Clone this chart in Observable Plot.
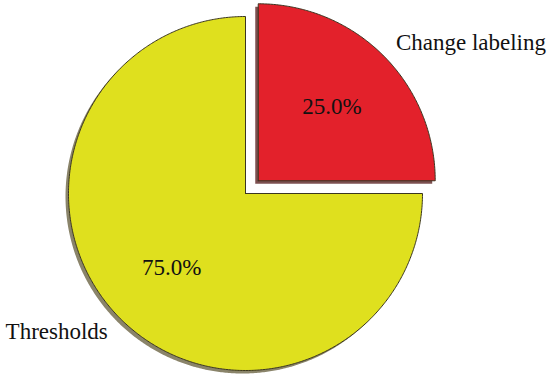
<!DOCTYPE html>
<html>
<head>
<meta charset="utf-8">
<script src="https://cdn.jsdelivr.net/npm/d3@7"></script>
<script src="https://cdn.jsdelivr.net/npm/@observablehq/plot@0.6"></script>
<style>
  html, body { margin: 0; padding: 0; background: #ffffff; }
  #chart { width: 550px; height: 381px; }
</style>
</head>
<body>
<div id="chart"></div>
<script>
// ---- data ----
const categories = ["Change labeling", "Thresholds"];
const values = [25, 75];
const percentLabels = ["25.0%", "75.0%"];
const sliceColors = ["#e3212b", "#dfe01e"];
const shadowColors = ["#7d5050", "#8a846a"];

// ---- layout constants ----
const W = 550, H = 381;
const R = 177;            // pie radius in data units (1 unit = 1 px)
const explode = [18, 0];  // offset of each slice along its mid-angle
const shadowDx = -3, shadowDy = -3;

const pie = d3.pie().sort(null).value(d => d)(values);

function slicePoints(arc, i, dx = 0, dy = 0) {
  const mid = (arc.startAngle + arc.endAngle) / 2;
  const ox = Math.sin(mid) * explode[i] + dx;
  const oy = Math.cos(mid) * explode[i] + dy;
  const pts = [{x: ox, y: oy}];
  const n = Math.max(8, Math.ceil((arc.endAngle - arc.startAngle) / (Math.PI / 360)));
  for (let k = 0; k <= n; k++) {
    const a = arc.startAngle + (arc.endAngle - arc.startAngle) * k / n;
    pts.push({x: ox + Math.sin(a) * R, y: oy + Math.cos(a) * R});
  }
  pts.push({x: ox, y: oy});
  return pts;
}

const marks = [];
pie.forEach((arc, i) => {
  marks.push(Plot.line(slicePoints(arc, i, shadowDx, shadowDy), {
    x: "x", y: "y", fill: shadowColors[i], stroke: "none", curve: "linear"
  }));
});
pie.forEach((arc, i) => {
  marks.push(Plot.line(slicePoints(arc, i), {
    x: "x", y: "y", fill: sliceColors[i], stroke: "#3a3520", strokeWidth: 1, curve: "linear"
  }));
});

// percentage labels inside
const inner = pie.map((arc, i) => {
  const mid = (arc.startAngle + arc.endAngle) / 2;
  const rr = 0.59 * R + explode[i];
  return {x: Math.sin(mid) * rr, y: Math.cos(mid) * rr, text: percentLabels[i]};
});
// category labels outside
const outer = pie.map((arc, i) => {
  const mid = (arc.startAngle + arc.endAngle) / 2;
  const rr = 1.1 * R + explode[i];
  return {x: Math.sin(mid) * rr, y: Math.cos(mid) * rr, text: categories[i],
          anchor: Math.sin(mid) >= 0 ? "start" : "end"};
});

marks.push(Plot.text(inner, {x: "x", y: "y", text: "text", fill: "#111",
  fontSize: 23, fontFamily: "Liberation Serif", textAnchor: "middle"}));
marks.push(Plot.text(outer.filter(d => d.anchor === "start"), {x: "x", y: "y", text: "text", fill: "#111",
  fontSize: 23, fontFamily: "Liberation Serif", textAnchor: "start"}));
marks.push(Plot.text(outer.filter(d => d.anchor === "end"), {x: "x", y: "y", text: "text", fill: "#111",
  fontSize: 23, fontFamily: "Liberation Serif", textAnchor: "end"}));

const chart = Plot.plot({
  width: W, height: H,
  marginTop: 0, marginRight: 0, marginBottom: 0, marginLeft: 0,
  x: {domain: [-245, W - 245], axis: null},
  y: {domain: [-(H - 193), 193], axis: null},
  style: {background: "#ffffff", fontFamily: "Liberation Serif"},
  marks
});
document.getElementById("chart").appendChild(chart);
</script>
</body>
</html>
